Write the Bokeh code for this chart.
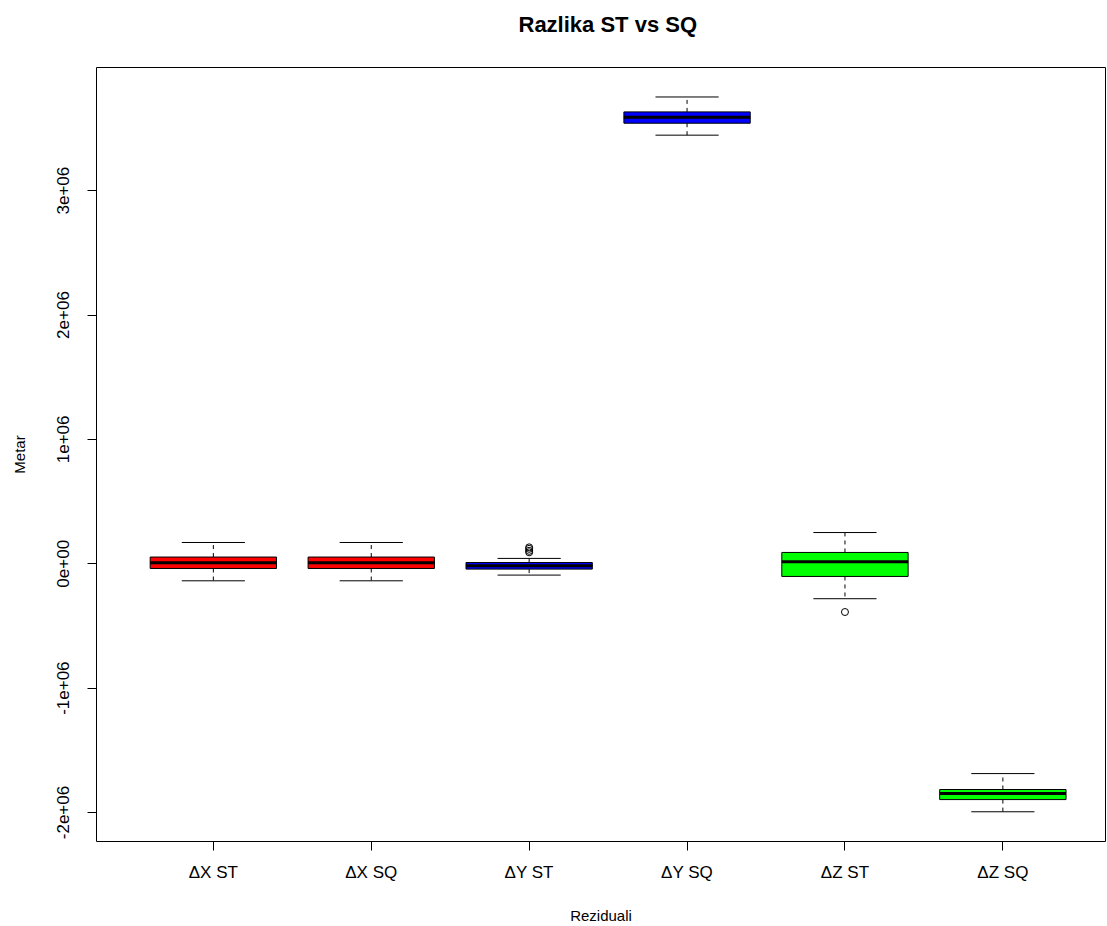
from bokeh.plotting import figure
from bokeh.models import FixedTicker, ColumnDataSource, Title
from bokeh.embed import file_html
from bokeh.resources import INLINE

# ---- data ----
categories = ["ΔX ST", "ΔX SQ", "ΔY ST", "ΔY SQ", "ΔZ ST", "ΔZ SQ"]
colors = ["#FF0000", "#FF0000", "#0000FF", "#0000FF", "#00FF00", "#00FF00"]
lower_whisker = [-0.137e6, -0.137e6, -0.091e6, 3.446e6, -0.281e6, -1.994e6]
q1 = [-0.038e6, -0.038e6, -0.043e6, 3.542e6, -0.102e6, -1.896e6]
median = [0.008e6, 0.008e6, -0.016e6, 3.590e6, 0.016e6, -1.847e6]
q3 = [0.054e6, 0.054e6, 0.010e6, 3.633e6, 0.091e6, -1.815e6]
upper_whisker = [0.171e6, 0.171e6, 0.043e6, 3.753e6, 0.251e6, -1.687e6]
outlier_cat = ["ΔY ST", "ΔY ST", "ΔY ST", "ΔY ST", "ΔZ ST"]
outlier_val = [0.132e6, 0.120e6, 0.104e6, 0.092e6, -0.388e6]
y_ticks = [-2e6, -1e6, 0, 1e6, 2e6, 3e6]
y_tick_labels = ["-2e+06", "-1e+06", "0e+00", "1e+06", "2e+06", "3e+06"]

FONT = "Liberation Sans"
pos = [i + 1 for i in range(len(categories))]
pos_of = {c: i + 1 for i, c in enumerate(categories)}
box_w = 0.8
cap_w = 0.4

src = ColumnDataSource(dict(
    x=pos, lw=lower_whisker, q1=q1, med=median, q3=q3, uw=upper_whisker, color=colors,
    xl=[p_ - box_w / 2 for p_ in pos], xr=[p_ + box_w / 2 for p_ in pos],
    cl=[p_ - cap_w / 2 for p_ in pos], cr=[p_ + cap_w / 2 for p_ in pos],
))

p = figure(width=1106, height=926, output_backend="svg", toolbar_location=None,
           x_range=(0.26, 6.65), y_range=(-2.233e6, 3.99e6),
           min_border_left=96, min_border_right=1, min_border_top=67, min_border_bottom=84)

p.background_fill_color = "white"
p.border_fill_color = "white"
p.outline_line_color = "black"
p.outline_line_width = 1
p.xgrid.visible = False
p.ygrid.visible = False

# whiskers (dashed)
p.segment(x0="x", y0="q3", x1="x", y1="uw", source=src, line_color="black", line_dash="4 4", line_width=1)
p.segment(x0="x", y0="q1", x1="x", y1="lw", source=src, line_color="black", line_dash="4 4", line_width=1)
# caps
p.segment(x0="cl", y0="uw", x1="cr", y1="uw", source=src, line_color="black", line_width=1)
p.segment(x0="cl", y0="lw", x1="cr", y1="lw", source=src, line_color="black", line_width=1)
# boxes
p.vbar(x="x", width=box_w, bottom="q1", top="q3", source=src, fill_color="color", line_color="black", line_width=1)
# medians
p.segment(x0="xl", y0="med", x1="xr", y1="med", source=src, line_color="black", line_width=3)
# outliers
p.scatter([pos_of[c] for c in outlier_cat], outlier_val, marker="circle", size=7,
          fill_color=None, line_color="black", line_width=1)

# axes
p.xaxis.ticker = FixedTicker(ticks=pos)
p.xaxis.major_label_overrides = {p_: c for p_, c in zip(pos, categories)}
p.yaxis.ticker = FixedTicker(ticks=y_ticks)
p.yaxis.major_label_overrides = {t: l for t, l in zip(y_ticks, y_tick_labels)}
p.yaxis.major_label_orientation = "vertical"

for ax in (p.xaxis[0], p.yaxis[0]):
    ax.axis_line_color = None
    ax.major_tick_line_color = "black"
    ax.major_tick_out = 9
    ax.major_tick_in = 0
    ax.minor_tick_line_color = None
    ax.major_label_text_font = FONT
    ax.major_label_text_font_size = "17px"
    ax.major_label_text_color = "black"
    ax.axis_label_text_font = FONT
    ax.axis_label_text_font_size = "15px"
    ax.axis_label_text_font_style = "normal"
    ax.axis_label_text_color = "black"

p.xaxis.major_label_standoff = 12
p.yaxis.major_label_standoff = 18
p.xaxis.axis_label = "Reziduali"
p.yaxis.axis_label = "Metar"
p.xaxis.axis_label_standoff = 22
p.yaxis.axis_label_standoff = 27

# spacer between frame and title (nearest to frame)
p.add_layout(Title(text=" ", text_font_size="1px", standoff=15), "above")

p.title.text = "Razlika ST vs SQ"
p.title.align = "left"
p.title.offset = 422
p.title.vertical_align = "top"
p.title.text_font = FONT
p.title.text_font_size = "22px"
p.title.text_font_style = "bold"
p.title.text_color = "black"
p.title.standoff = 22

open("out.html", "w").write(file_html(p, INLINE))
